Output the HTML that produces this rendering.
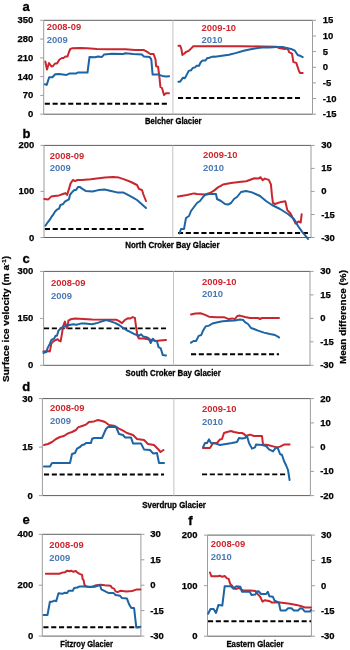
<!DOCTYPE html>
<html><head><meta charset="utf-8"><style>
html,body{margin:0;padding:0;background:#fff;width:350px;height:650px;overflow:hidden}
svg{display:block;filter:blur(0.35px);font-family:"Liberation Sans", sans-serif}
</style></head><body>
<svg width="350" height="650" viewBox="0 0 350 650">
<rect x="0" y="0" width="350" height="650" fill="#fff"/>
<line x1="43.7" y1="20.3" x2="312.5" y2="20.3" stroke="#5e5e5e" stroke-width="1"/>
<line x1="43.7" y1="114.2" x2="312.5" y2="114.2" stroke="#5e5e5e" stroke-width="1"/>
<line x1="43.7" y1="20.3" x2="43.7" y2="114.2" stroke="#9c9c9c" stroke-width="1"/>
<line x1="312.5" y1="20.3" x2="312.5" y2="114.2" stroke="#9c9c9c" stroke-width="1"/>
<line x1="172.9" y1="20.3" x2="172.9" y2="114.2" stroke="#c2c2c2" stroke-width="1"/>
<line x1="40.2" y1="20.3" x2="43.7" y2="20.3" stroke="#9c9c9c" stroke-width="1"/>
<text x="33.4" y="23.3" font-size="9.6" font-weight="bold" fill="#000" text-anchor="end" textLength="15.8" lengthAdjust="spacingAndGlyphs" stroke="#000" stroke-width="0.25">350</text>
<line x1="40.2" y1="39.1" x2="43.7" y2="39.1" stroke="#9c9c9c" stroke-width="1"/>
<text x="33.4" y="42.1" font-size="9.6" font-weight="bold" fill="#000" text-anchor="end" textLength="15.8" lengthAdjust="spacingAndGlyphs" stroke="#000" stroke-width="0.25">280</text>
<line x1="40.2" y1="57.9" x2="43.7" y2="57.9" stroke="#9c9c9c" stroke-width="1"/>
<text x="33.4" y="60.9" font-size="9.6" font-weight="bold" fill="#000" text-anchor="end" textLength="15.8" lengthAdjust="spacingAndGlyphs" stroke="#000" stroke-width="0.25">210</text>
<line x1="40.2" y1="76.6" x2="43.7" y2="76.6" stroke="#9c9c9c" stroke-width="1"/>
<text x="33.4" y="79.6" font-size="9.6" font-weight="bold" fill="#000" text-anchor="end" textLength="15.8" lengthAdjust="spacingAndGlyphs" stroke="#000" stroke-width="0.25">140</text>
<line x1="40.2" y1="95.4" x2="43.7" y2="95.4" stroke="#9c9c9c" stroke-width="1"/>
<text x="33.4" y="98.4" font-size="9.6" font-weight="bold" fill="#000" text-anchor="end" textLength="10.6" lengthAdjust="spacingAndGlyphs" stroke="#000" stroke-width="0.25">70</text>
<line x1="40.2" y1="114.2" x2="43.7" y2="114.2" stroke="#9c9c9c" stroke-width="1"/>
<text x="33.4" y="117.2" font-size="9.6" font-weight="bold" fill="#000" text-anchor="end" textLength="5.3" lengthAdjust="spacingAndGlyphs" stroke="#000" stroke-width="0.25">0</text>
<line x1="312.5" y1="20.3" x2="316.0" y2="20.3" stroke="#9c9c9c" stroke-width="1"/>
<text x="322.8" y="23.3" font-size="9.6" font-weight="bold" fill="#000" text-anchor="start" textLength="10.6" lengthAdjust="spacingAndGlyphs" stroke="#000" stroke-width="0.25">15</text>
<line x1="312.5" y1="36.0" x2="316.0" y2="36.0" stroke="#9c9c9c" stroke-width="1"/>
<text x="322.8" y="39.0" font-size="9.6" font-weight="bold" fill="#000" text-anchor="start" textLength="10.6" lengthAdjust="spacingAndGlyphs" stroke="#000" stroke-width="0.25">10</text>
<line x1="312.5" y1="51.6" x2="316.0" y2="51.6" stroke="#9c9c9c" stroke-width="1"/>
<text x="322.8" y="54.6" font-size="9.6" font-weight="bold" fill="#000" text-anchor="start" textLength="5.3" lengthAdjust="spacingAndGlyphs" stroke="#000" stroke-width="0.25">5</text>
<line x1="312.5" y1="67.3" x2="316.0" y2="67.3" stroke="#9c9c9c" stroke-width="1"/>
<text x="322.8" y="70.3" font-size="9.6" font-weight="bold" fill="#000" text-anchor="start" textLength="5.3" lengthAdjust="spacingAndGlyphs" stroke="#000" stroke-width="0.25">0</text>
<line x1="312.5" y1="82.9" x2="316.0" y2="82.9" stroke="#9c9c9c" stroke-width="1"/>
<text x="322.8" y="85.9" font-size="9.6" font-weight="bold" fill="#000" text-anchor="start" textLength="8.4" lengthAdjust="spacingAndGlyphs" stroke="#000" stroke-width="0.25">-5</text>
<line x1="312.5" y1="98.5" x2="316.0" y2="98.5" stroke="#9c9c9c" stroke-width="1"/>
<text x="322.8" y="101.5" font-size="9.6" font-weight="bold" fill="#000" text-anchor="start" textLength="13.7" lengthAdjust="spacingAndGlyphs" stroke="#000" stroke-width="0.25">-10</text>
<line x1="312.5" y1="114.2" x2="316.0" y2="114.2" stroke="#9c9c9c" stroke-width="1"/>
<text x="322.8" y="117.2" font-size="9.6" font-weight="bold" fill="#000" text-anchor="start" textLength="13.7" lengthAdjust="spacingAndGlyphs" stroke="#000" stroke-width="0.25">-15</text>
<text x="22.5" y="10.8" font-size="13.0" font-weight="bold" fill="#000" text-anchor="start" stroke="#000" stroke-width="0.3">a</text>
<text x="46.7" y="30.4" font-size="9.8" font-weight="bold" fill="#cf252d" text-anchor="start" textLength="34.5" lengthAdjust="spacingAndGlyphs">2008-09</text>
<text x="46.7" y="43.0" font-size="9.8" font-weight="bold" fill="#4a79b5" text-anchor="start" textLength="21.0" lengthAdjust="spacingAndGlyphs">2009</text>
<text x="201.6" y="30.6" font-size="9.8" font-weight="bold" fill="#cf252d" text-anchor="start" textLength="34.5" lengthAdjust="spacingAndGlyphs">2009-10</text>
<text x="201.6" y="43.0" font-size="9.8" font-weight="bold" fill="#4a79b5" text-anchor="start" textLength="21.0" lengthAdjust="spacingAndGlyphs">2010</text>
<text x="145.0" y="124.2" font-size="9.4" font-weight="bold" fill="#000" text-anchor="start" textLength="56.6" lengthAdjust="spacingAndGlyphs" stroke="#000" stroke-width="0.3">Belcher Glacier</text>
<line x1="44.8" y1="103.7" x2="167.0" y2="103.7" stroke="#000" stroke-width="1.9" stroke-dasharray="5.1,2.7"/>
<line x1="178.0" y1="98.0" x2="300.0" y2="98.0" stroke="#000" stroke-width="1.9" stroke-dasharray="5.1,2.7"/>
<polyline points="45.3,61.5 47.0,69.5 49.0,63.0 51.5,66.5 53.0,66.0 55.0,63.5 57.0,63.5 59.5,59.5 62.0,58.0 63.5,58.0 65.5,56.5 67.5,56.5 69.0,52.0 70.3,49.0 72.0,48.3 80.0,48.0 87.0,48.2 97.0,48.9 108.0,49.3 125.4,49.3 135.1,50.1 143.9,50.1 146.8,51.7 150.3,54.0 153.6,54.0 155.5,59.4 156.1,66.2 158.1,66.8 159.4,76.9 160.4,87.0 162.0,88.0 164.0,95.0 166.0,93.3 169.0,93.3" fill="none" stroke="#c9262e" stroke-width="2" stroke-linejoin="round" stroke-linecap="round"/>
<polyline points="44.8,84.3 46.7,84.9 49.2,77.3 52.4,77.3 55.2,74.3 59.0,74.0 66.5,74.9 69.3,73.6 76.0,73.6 77.8,72.5 87.5,72.5 89.5,57.0 95.0,57.3 98.0,56.5 102.0,57.0 104.0,54.5 112.0,53.8 123.5,54.0 125.4,53.2 133.2,54.0 142.0,54.6 143.9,56.5 149.7,57.1 151.3,59.4 152.6,74.6 158.5,74.6 162.3,75.9 166.2,76.5 169.1,76.3" fill="none" stroke="#1c64a3" stroke-width="2" stroke-linejoin="round" stroke-linecap="round"/>
<polyline points="178.4,45.7 180.1,45.7 181.3,48.6 182.4,54.9 184.1,53.7 185.9,52.0 187.6,51.4 189.3,50.3 191.0,48.6 193.3,46.3 215.0,46.3 242.0,46.3 262.0,46.4 276.3,46.7 279.1,48.1 284.9,49.0 287.7,48.6 289.1,52.1 292.0,53.6 293.4,62.1 296.3,62.9 298.4,69.3 299.9,72.9 302.7,72.9" fill="none" stroke="#c9262e" stroke-width="2" stroke-linejoin="round" stroke-linecap="round"/>
<polyline points="178.4,81.7 180.1,81.7 183.0,77.7 184.7,78.3 186.4,75.4 188.7,70.9 191.0,70.3 192.7,68.0 195.0,67.4 196.7,65.7 199.0,65.7 200.7,62.3 202.4,60.6 205.3,60.6 207.0,58.3 209.3,57.7 212.7,56.6 215.0,56.7 222.0,55.7 229.0,54.7 236.4,52.9 243.6,50.7 250.7,49.3 257.9,48.1 262.0,47.6 269.1,47.4 276.3,47.1 283.4,47.1 287.7,48.1 292.0,49.3 294.9,50.7 297.7,55.0 299.9,55.7 302.7,57.1" fill="none" stroke="#1c64a3" stroke-width="2" stroke-linejoin="round" stroke-linecap="round"/>
<line x1="44.0" y1="145.4" x2="311.0" y2="145.4" stroke="#5e5e5e" stroke-width="1"/>
<line x1="44.0" y1="237.5" x2="311.0" y2="237.5" stroke="#5e5e5e" stroke-width="1"/>
<line x1="44.0" y1="145.4" x2="44.0" y2="237.5" stroke="#9c9c9c" stroke-width="1"/>
<line x1="311.0" y1="145.4" x2="311.0" y2="237.5" stroke="#9c9c9c" stroke-width="1"/>
<line x1="172.8" y1="145.4" x2="172.8" y2="237.5" stroke="#c2c2c2" stroke-width="1"/>
<line x1="40.5" y1="145.4" x2="44.0" y2="145.4" stroke="#9c9c9c" stroke-width="1"/>
<text x="34.2" y="148.4" font-size="9.6" font-weight="bold" fill="#000" text-anchor="end" textLength="15.8" lengthAdjust="spacingAndGlyphs" stroke="#000" stroke-width="0.25">200</text>
<line x1="40.5" y1="191.4" x2="44.0" y2="191.4" stroke="#9c9c9c" stroke-width="1"/>
<text x="34.2" y="194.4" font-size="9.6" font-weight="bold" fill="#000" text-anchor="end" textLength="15.8" lengthAdjust="spacingAndGlyphs" stroke="#000" stroke-width="0.25">100</text>
<line x1="40.5" y1="237.5" x2="44.0" y2="237.5" stroke="#9c9c9c" stroke-width="1"/>
<text x="34.2" y="240.5" font-size="9.6" font-weight="bold" fill="#000" text-anchor="end" textLength="5.3" lengthAdjust="spacingAndGlyphs" stroke="#000" stroke-width="0.25">0</text>
<line x1="311.0" y1="145.4" x2="314.5" y2="145.4" stroke="#9c9c9c" stroke-width="1"/>
<text x="321.2" y="148.4" font-size="9.6" font-weight="bold" fill="#000" text-anchor="start" textLength="10.6" lengthAdjust="spacingAndGlyphs" stroke="#000" stroke-width="0.25">30</text>
<line x1="311.0" y1="168.4" x2="314.5" y2="168.4" stroke="#9c9c9c" stroke-width="1"/>
<text x="321.2" y="171.4" font-size="9.6" font-weight="bold" fill="#000" text-anchor="start" textLength="10.6" lengthAdjust="spacingAndGlyphs" stroke="#000" stroke-width="0.25">15</text>
<line x1="311.0" y1="191.4" x2="314.5" y2="191.4" stroke="#9c9c9c" stroke-width="1"/>
<text x="321.2" y="194.4" font-size="9.6" font-weight="bold" fill="#000" text-anchor="start" textLength="5.3" lengthAdjust="spacingAndGlyphs" stroke="#000" stroke-width="0.25">0</text>
<line x1="311.0" y1="214.5" x2="314.5" y2="214.5" stroke="#9c9c9c" stroke-width="1"/>
<text x="321.2" y="217.5" font-size="9.6" font-weight="bold" fill="#000" text-anchor="start" textLength="13.7" lengthAdjust="spacingAndGlyphs" stroke="#000" stroke-width="0.25">-15</text>
<line x1="311.0" y1="237.5" x2="314.5" y2="237.5" stroke="#9c9c9c" stroke-width="1"/>
<text x="321.2" y="240.5" font-size="9.6" font-weight="bold" fill="#000" text-anchor="start" textLength="13.7" lengthAdjust="spacingAndGlyphs" stroke="#000" stroke-width="0.25">-30</text>
<text x="22.5" y="137.6" font-size="13.0" font-weight="bold" fill="#000" text-anchor="start" stroke="#000" stroke-width="0.3">b</text>
<text x="49.8" y="158.5" font-size="9.8" font-weight="bold" fill="#cf252d" text-anchor="start" textLength="34.5" lengthAdjust="spacingAndGlyphs">2008-09</text>
<text x="49.8" y="171.0" font-size="9.8" font-weight="bold" fill="#4a79b5" text-anchor="start" textLength="21.0" lengthAdjust="spacingAndGlyphs">2009</text>
<text x="203.0" y="158.4" font-size="9.8" font-weight="bold" fill="#cf252d" text-anchor="start" textLength="34.5" lengthAdjust="spacingAndGlyphs">2009-10</text>
<text x="203.0" y="171.0" font-size="9.8" font-weight="bold" fill="#4a79b5" text-anchor="start" textLength="21.0" lengthAdjust="spacingAndGlyphs">2010</text>
<text x="125.2" y="248.4" font-size="9.4" font-weight="bold" fill="#000" text-anchor="start" textLength="94.4" lengthAdjust="spacingAndGlyphs" stroke="#000" stroke-width="0.3">North Croker Bay Glacier</text>
<line x1="44.9" y1="229.0" x2="144.0" y2="229.0" stroke="#000" stroke-width="1.9" stroke-dasharray="5.1,2.7"/>
<line x1="178.0" y1="233.0" x2="308.0" y2="233.0" stroke="#000" stroke-width="1.9" stroke-dasharray="5.1,2.7"/>
<polyline points="44.3,198.9 48.3,199.4 51.1,196.6 54.6,196.0 59.1,195.4 63.7,193.7 65.4,193.1 67.1,194.9 68.9,189.1 70.6,183.4 72.9,180.0 75.1,181.1 77.4,180.0 82.0,180.0 90.6,179.3 105.0,177.6 113.0,177.0 119.0,177.6 125.0,179.6 131.0,182.0 137.0,185.0 139.0,189.0 142.0,190.0 143.6,195.0 146.0,201.0" fill="none" stroke="#c9262e" stroke-width="2" stroke-linejoin="round" stroke-linecap="round"/>
<polyline points="45.4,225.7 47.7,222.3 50.0,219.4 51.7,216.6 53.4,214.3 55.1,211.4 56.9,209.7 59.1,208.6 60.3,205.1 63.1,204.0 64.9,201.7 66.6,200.6 68.9,199.4 70.0,194.9 71.7,192.6 74.0,190.3 76.3,189.7 78.0,186.9 79.7,186.9 82.0,188.6 85.7,190.9 92.5,191.5 98.3,190.1 104.6,189.5 111.0,191.0 117.0,192.4 123.0,192.4 127.0,194.4 133.0,197.6 137.0,200.0 141.0,203.6 146.0,208.0" fill="none" stroke="#1c64a3" stroke-width="2" stroke-linejoin="round" stroke-linecap="round"/>
<polyline points="178.0,196.6 187.0,195.0 194.0,193.4 197.0,194.0 205.0,194.4 210.0,193.0 214.0,190.6 218.0,187.4 223.0,184.6 231.0,183.0 239.0,182.0 246.2,181.3 254.4,178.2 258.5,178.6 260.6,177.2 262.6,180.3 264.7,178.6 268.8,179.9 270.9,184.4 271.9,194.7 272.9,202.9 275.0,204.0 281.2,201.9 285.3,201.3 287.3,210.1 290.4,213.2 293.5,219.4 295.6,223.5 298.6,221.4 300.7,222.5 301.7,214.2" fill="none" stroke="#c9262e" stroke-width="2" stroke-linejoin="round" stroke-linecap="round"/>
<polyline points="179.5,233.5 181.0,229.0 184.0,229.0 186.0,218.0 189.0,216.0 191.0,211.0 194.0,207.0 197.0,203.0 200.0,201.0 203.0,197.0 205.0,195.0 209.0,194.0 213.0,194.0 216.0,194.0 217.0,199.0 221.0,201.0 225.0,204.0 228.0,204.6 231.0,203.0 234.0,199.0 237.0,197.0 241.0,192.0 246.0,191.0 252.0,192.4 260.0,196.0 266.0,201.0 272.0,205.0 280.0,209.0 288.0,214.0 294.0,219.0 298.0,226.0 302.0,231.6 306.0,236.4 308.0,239.0" fill="none" stroke="#1c64a3" stroke-width="2" stroke-linejoin="round" stroke-linecap="round"/>
<line x1="43.6" y1="271.4" x2="310.0" y2="271.4" stroke="#5e5e5e" stroke-width="1"/>
<line x1="43.6" y1="365.3" x2="310.0" y2="365.3" stroke="#5e5e5e" stroke-width="1"/>
<line x1="43.6" y1="271.4" x2="43.6" y2="365.3" stroke="#9c9c9c" stroke-width="1"/>
<line x1="310.0" y1="271.4" x2="310.0" y2="365.3" stroke="#9c9c9c" stroke-width="1"/>
<line x1="173.5" y1="271.4" x2="173.5" y2="365.3" stroke="#c2c2c2" stroke-width="1"/>
<line x1="40.1" y1="271.4" x2="43.6" y2="271.4" stroke="#9c9c9c" stroke-width="1"/>
<text x="33.2" y="274.4" font-size="9.6" font-weight="bold" fill="#000" text-anchor="end" textLength="15.8" lengthAdjust="spacingAndGlyphs" stroke="#000" stroke-width="0.25">300</text>
<line x1="40.1" y1="318.4" x2="43.6" y2="318.4" stroke="#9c9c9c" stroke-width="1"/>
<text x="33.2" y="321.4" font-size="9.6" font-weight="bold" fill="#000" text-anchor="end" textLength="15.8" lengthAdjust="spacingAndGlyphs" stroke="#000" stroke-width="0.25">150</text>
<line x1="40.1" y1="365.3" x2="43.6" y2="365.3" stroke="#9c9c9c" stroke-width="1"/>
<text x="33.2" y="368.3" font-size="9.6" font-weight="bold" fill="#000" text-anchor="end" textLength="5.3" lengthAdjust="spacingAndGlyphs" stroke="#000" stroke-width="0.25">0</text>
<line x1="310.0" y1="271.4" x2="313.5" y2="271.4" stroke="#9c9c9c" stroke-width="1"/>
<text x="320.2" y="274.4" font-size="9.6" font-weight="bold" fill="#000" text-anchor="start" textLength="10.6" lengthAdjust="spacingAndGlyphs" stroke="#000" stroke-width="0.25">30</text>
<line x1="310.0" y1="294.9" x2="313.5" y2="294.9" stroke="#9c9c9c" stroke-width="1"/>
<text x="320.2" y="297.9" font-size="9.6" font-weight="bold" fill="#000" text-anchor="start" textLength="10.6" lengthAdjust="spacingAndGlyphs" stroke="#000" stroke-width="0.25">15</text>
<line x1="310.0" y1="318.4" x2="313.5" y2="318.4" stroke="#9c9c9c" stroke-width="1"/>
<text x="320.2" y="321.4" font-size="9.6" font-weight="bold" fill="#000" text-anchor="start" textLength="5.3" lengthAdjust="spacingAndGlyphs" stroke="#000" stroke-width="0.25">0</text>
<line x1="310.0" y1="341.8" x2="313.5" y2="341.8" stroke="#9c9c9c" stroke-width="1"/>
<text x="320.2" y="344.8" font-size="9.6" font-weight="bold" fill="#000" text-anchor="start" textLength="13.7" lengthAdjust="spacingAndGlyphs" stroke="#000" stroke-width="0.25">-15</text>
<line x1="310.0" y1="365.3" x2="313.5" y2="365.3" stroke="#9c9c9c" stroke-width="1"/>
<text x="320.2" y="368.3" font-size="9.6" font-weight="bold" fill="#000" text-anchor="start" textLength="13.7" lengthAdjust="spacingAndGlyphs" stroke="#000" stroke-width="0.25">-30</text>
<text x="22.5" y="263.2" font-size="13.0" font-weight="bold" fill="#000" text-anchor="start" stroke="#000" stroke-width="0.3">c</text>
<text x="51.0" y="286.0" font-size="9.8" font-weight="bold" fill="#cf252d" text-anchor="start" textLength="34.5" lengthAdjust="spacingAndGlyphs">2008-09</text>
<text x="51.0" y="298.6" font-size="9.8" font-weight="bold" fill="#4a79b5" text-anchor="start" textLength="21.0" lengthAdjust="spacingAndGlyphs">2009</text>
<text x="202.0" y="284.6" font-size="9.8" font-weight="bold" fill="#cf252d" text-anchor="start" textLength="34.5" lengthAdjust="spacingAndGlyphs">2009-10</text>
<text x="202.0" y="297.4" font-size="9.8" font-weight="bold" fill="#4a79b5" text-anchor="start" textLength="21.0" lengthAdjust="spacingAndGlyphs">2010</text>
<text x="125.6" y="376.1" font-size="9.4" font-weight="bold" fill="#000" text-anchor="start" textLength="95.2" lengthAdjust="spacingAndGlyphs" stroke="#000" stroke-width="0.3">South Croker Bay Glacier</text>
<line x1="44.0" y1="328.4" x2="166.0" y2="328.4" stroke="#000" stroke-width="1.9" stroke-dasharray="5.1,2.7"/>
<line x1="191.0" y1="354.2" x2="279.0" y2="354.2" stroke="#000" stroke-width="1.9" stroke-dasharray="5.1,2.7"/>
<polyline points="43.4,351.4 47.7,351.0 49.9,351.4 51.3,343.6 53.4,341.4 55.6,340.0 57.7,339.3 59.1,340.7 60.6,341.4 62.0,333.6 63.1,326.4 64.1,323.6 64.9,321.6 65.6,324.3 66.6,328.0 67.7,326.4 68.4,320.7 70.6,319.3 74.9,318.6 92.0,319.5 116.3,319.7 119.1,321.1 122.0,323.1 124.9,320.0 127.7,318.3 129.9,318.6 132.7,317.1 134.9,317.9 136.3,328.6 137.7,336.4 139.1,338.6 144.0,338.6 152.0,340.0 156.0,341.0 160.0,340.6 166.0,340.0" fill="none" stroke="#c9262e" stroke-width="2" stroke-linejoin="round" stroke-linecap="round"/>
<polyline points="43.4,352.9 46.3,352.1 47.7,347.9 49.9,343.6 51.3,340.0 54.1,338.6 55.6,335.7 57.0,335.7 58.4,330.7 60.6,328.6 62.7,327.1 64.9,326.4 67.0,325.0 69.1,325.0 73.4,324.3 76.3,324.7 80.6,323.6 84.9,323.6 92.0,324.3 97.7,322.9 102.0,321.4 106.3,320.0 110.6,321.4 114.9,322.9 119.1,325.0 122.0,327.1 126.3,330.0 130.6,332.1 134.9,334.3 139.1,335.7 141.2,334.3 143.3,336.6 146.5,337.2 148.6,338.2 150.7,343.0 152.8,338.7 154.9,340.9 157.0,341.4 158.6,347.2 160.7,348.3 162.8,355.1 166.0,355.4" fill="none" stroke="#1c64a3" stroke-width="2" stroke-linejoin="round" stroke-linecap="round"/>
<polyline points="191.0,314.4 195.3,313.6 200.4,313.2 203.9,314.4 209.0,316.7 215.9,317.3 224.5,317.3 228.7,319.1 232.2,318.4 234.7,319.1 237.3,316.1 239.9,315.6 245.0,317.0 250.0,318.0 258.0,318.0 260.0,319.0 262.0,318.0 279.0,318.0" fill="none" stroke="#c9262e" stroke-width="2" stroke-linejoin="round" stroke-linecap="round"/>
<polyline points="191.0,342.7 193.6,341.0 196.1,341.0 198.7,335.9 201.3,335.0 203.0,330.7 205.6,326.4 209.0,325.6 212.4,323.5 217.6,322.2 222.7,321.3 229.6,320.8 234.7,320.4 239.9,319.6 243.3,320.1 245.0,322.2 248.0,324.0 251.0,328.0 254.0,329.0 258.0,330.6 264.0,332.6 270.0,334.0 275.0,335.0 279.0,337.4" fill="none" stroke="#1c64a3" stroke-width="2" stroke-linejoin="round" stroke-linecap="round"/>
<text x="0.0" y="0.0" font-size="9.6" font-weight="bold" fill="#000" text-anchor="middle" textLength="126.0" lengthAdjust="spacingAndGlyphs" stroke="#000" stroke-width="0.25" transform="translate(8.9,319) rotate(-90)">Surface ice velocity (m a<tspan dy="-3" font-size="6">-1</tspan><tspan dy="3">)</tspan></text>
<text x="0.0" y="0.0" font-size="9.6" font-weight="bold" fill="#000" text-anchor="middle" textLength="94.0" lengthAdjust="spacingAndGlyphs" stroke="#000" stroke-width="0.25" transform="translate(346.2,317) rotate(-90)">Mean difference (%)</text>
<line x1="42.4" y1="398.6" x2="310.4" y2="398.6" stroke="#5e5e5e" stroke-width="1"/>
<line x1="42.4" y1="495.6" x2="310.4" y2="495.6" stroke="#5e5e5e" stroke-width="1"/>
<line x1="42.4" y1="398.6" x2="42.4" y2="495.6" stroke="#9c9c9c" stroke-width="1"/>
<line x1="310.4" y1="398.6" x2="310.4" y2="495.6" stroke="#9c9c9c" stroke-width="1"/>
<line x1="173.9" y1="398.6" x2="173.9" y2="495.6" stroke="#c2c2c2" stroke-width="1"/>
<line x1="38.9" y1="398.6" x2="42.4" y2="398.6" stroke="#9c9c9c" stroke-width="1"/>
<text x="32.8" y="401.6" font-size="9.6" font-weight="bold" fill="#000" text-anchor="end" textLength="10.6" lengthAdjust="spacingAndGlyphs" stroke="#000" stroke-width="0.25">30</text>
<line x1="38.9" y1="447.1" x2="42.4" y2="447.1" stroke="#9c9c9c" stroke-width="1"/>
<text x="32.8" y="450.1" font-size="9.6" font-weight="bold" fill="#000" text-anchor="end" textLength="10.6" lengthAdjust="spacingAndGlyphs" stroke="#000" stroke-width="0.25">15</text>
<line x1="38.9" y1="495.6" x2="42.4" y2="495.6" stroke="#9c9c9c" stroke-width="1"/>
<text x="32.8" y="498.6" font-size="9.6" font-weight="bold" fill="#000" text-anchor="end" textLength="5.3" lengthAdjust="spacingAndGlyphs" stroke="#000" stroke-width="0.25">0</text>
<line x1="310.4" y1="398.6" x2="313.9" y2="398.6" stroke="#9c9c9c" stroke-width="1"/>
<text x="320.2" y="401.6" font-size="9.6" font-weight="bold" fill="#000" text-anchor="start" textLength="10.6" lengthAdjust="spacingAndGlyphs" stroke="#000" stroke-width="0.25">20</text>
<line x1="310.4" y1="422.9" x2="313.9" y2="422.9" stroke="#9c9c9c" stroke-width="1"/>
<text x="320.2" y="425.9" font-size="9.6" font-weight="bold" fill="#000" text-anchor="start" textLength="10.6" lengthAdjust="spacingAndGlyphs" stroke="#000" stroke-width="0.25">10</text>
<line x1="310.4" y1="447.1" x2="313.9" y2="447.1" stroke="#9c9c9c" stroke-width="1"/>
<text x="320.2" y="450.1" font-size="9.6" font-weight="bold" fill="#000" text-anchor="start" textLength="5.3" lengthAdjust="spacingAndGlyphs" stroke="#000" stroke-width="0.25">0</text>
<line x1="310.4" y1="471.4" x2="313.9" y2="471.4" stroke="#9c9c9c" stroke-width="1"/>
<text x="320.2" y="474.4" font-size="9.6" font-weight="bold" fill="#000" text-anchor="start" textLength="13.7" lengthAdjust="spacingAndGlyphs" stroke="#000" stroke-width="0.25">-10</text>
<line x1="310.4" y1="495.6" x2="313.9" y2="495.6" stroke="#9c9c9c" stroke-width="1"/>
<text x="320.2" y="498.6" font-size="9.6" font-weight="bold" fill="#000" text-anchor="start" textLength="13.7" lengthAdjust="spacingAndGlyphs" stroke="#000" stroke-width="0.25">-20</text>
<text x="22.2" y="391.0" font-size="13.0" font-weight="bold" fill="#000" text-anchor="start" stroke="#000" stroke-width="0.3">d</text>
<text x="50.0" y="411.0" font-size="9.8" font-weight="bold" fill="#cf252d" text-anchor="start" textLength="34.5" lengthAdjust="spacingAndGlyphs">2008-09</text>
<text x="50.0" y="423.6" font-size="9.8" font-weight="bold" fill="#4a79b5" text-anchor="start" textLength="21.0" lengthAdjust="spacingAndGlyphs">2009</text>
<text x="202.0" y="411.6" font-size="9.8" font-weight="bold" fill="#cf252d" text-anchor="start" textLength="34.5" lengthAdjust="spacingAndGlyphs">2009-10</text>
<text x="202.0" y="424.6" font-size="9.8" font-weight="bold" fill="#4a79b5" text-anchor="start" textLength="21.0" lengthAdjust="spacingAndGlyphs">2010</text>
<text x="142.3" y="508.0" font-size="9.4" font-weight="bold" fill="#000" text-anchor="start" textLength="63.6" lengthAdjust="spacingAndGlyphs" stroke="#000" stroke-width="0.3">Sverdrup Glacier</text>
<line x1="44.0" y1="474.5" x2="164.0" y2="474.5" stroke="#000" stroke-width="1.9" stroke-dasharray="5.1,2.7"/>
<line x1="202.0" y1="474.4" x2="286.0" y2="474.4" stroke="#000" stroke-width="1.9" stroke-dasharray="5.1,2.7"/>
<polyline points="44.0,445.0 48.0,444.0 52.0,442.0 56.0,439.0 60.0,437.0 64.0,436.0 68.0,433.4 72.0,432.0 76.0,430.0 78.0,427.4 82.0,426.0 86.0,424.6 89.0,422.0 94.0,421.4 98.0,420.0 102.0,421.0 105.0,422.0 109.0,425.0 115.0,426.0 119.0,428.6 123.0,430.6 127.0,433.0 133.0,435.0 137.0,439.0 144.0,440.0 148.0,444.0 154.0,445.0 158.0,449.0 160.5,452.0 163.5,450.0" fill="none" stroke="#c9262e" stroke-width="2" stroke-linejoin="round" stroke-linecap="round"/>
<polyline points="44.0,466.6 50.0,466.6 52.0,463.0 70.0,463.0 72.0,454.0 75.0,453.0 77.0,448.6 80.0,447.0 82.0,445.0 84.0,444.6 86.0,443.0 91.0,443.0 92.0,439.0 94.0,438.0 102.0,438.0 106.0,429.0 108.0,427.0 116.0,427.0 119.0,434.0 123.0,435.0 125.0,437.4 131.0,437.4 133.0,443.4 141.0,443.4 144.0,449.4 150.0,450.0 153.0,453.4 157.0,453.0 159.0,463.0 164.0,463.0" fill="none" stroke="#1c64a3" stroke-width="2" stroke-linejoin="round" stroke-linecap="round"/>
<polyline points="203.0,448.0 210.0,448.0 213.0,443.0 217.0,443.0 220.0,439.4 222.0,439.0 224.0,433.0 227.0,432.0 231.0,431.0 234.0,432.0 239.0,433.0 242.0,433.0 244.0,434.0 246.0,436.0 250.0,434.6 254.0,436.0 262.0,436.0 263.0,444.6 268.0,445.0 274.0,446.6 277.0,447.4 280.0,446.6 284.0,444.6 289.6,444.6" fill="none" stroke="#c9262e" stroke-width="2" stroke-linejoin="round" stroke-linecap="round"/>
<polyline points="203.0,447.4 205.0,443.0 207.0,443.0 209.0,439.4 211.0,443.0 215.0,443.4 220.0,445.0 226.0,444.0 232.0,443.0 237.0,442.0 239.0,438.0 242.0,438.6 245.0,438.0 247.0,436.0 249.0,443.0 252.0,448.6 255.0,447.4 256.0,444.6 262.0,445.0 266.0,446.0 269.0,449.4 273.0,451.4 276.0,447.4 278.0,448.6 280.0,454.0 282.0,455.0 284.0,461.0 286.4,466.0 288.0,470.0 289.6,480.0" fill="none" stroke="#1c64a3" stroke-width="2" stroke-linejoin="round" stroke-linecap="round"/>
<line x1="42.3" y1="534.3" x2="140.9" y2="534.3" stroke="#5e5e5e" stroke-width="1"/>
<line x1="42.3" y1="636.1" x2="140.9" y2="636.1" stroke="#5e5e5e" stroke-width="1"/>
<line x1="42.3" y1="534.3" x2="42.3" y2="636.1" stroke="#9c9c9c" stroke-width="1"/>
<line x1="140.9" y1="534.3" x2="140.9" y2="636.1" stroke="#9c9c9c" stroke-width="1"/>
<line x1="38.8" y1="534.3" x2="42.3" y2="534.3" stroke="#9c9c9c" stroke-width="1"/>
<text x="33.2" y="537.3" font-size="9.6" font-weight="bold" fill="#000" text-anchor="end" textLength="15.8" lengthAdjust="spacingAndGlyphs" stroke="#000" stroke-width="0.25">400</text>
<line x1="38.8" y1="585.2" x2="42.3" y2="585.2" stroke="#9c9c9c" stroke-width="1"/>
<text x="33.2" y="588.2" font-size="9.6" font-weight="bold" fill="#000" text-anchor="end" textLength="15.8" lengthAdjust="spacingAndGlyphs" stroke="#000" stroke-width="0.25">200</text>
<line x1="38.8" y1="636.1" x2="42.3" y2="636.1" stroke="#9c9c9c" stroke-width="1"/>
<text x="33.2" y="639.1" font-size="9.6" font-weight="bold" fill="#000" text-anchor="end" textLength="5.3" lengthAdjust="spacingAndGlyphs" stroke="#000" stroke-width="0.25">0</text>
<line x1="140.9" y1="534.3" x2="144.4" y2="534.3" stroke="#9c9c9c" stroke-width="1"/>
<text x="150.2" y="537.3" font-size="9.6" font-weight="bold" fill="#000" text-anchor="start" textLength="10.6" lengthAdjust="spacingAndGlyphs" stroke="#000" stroke-width="0.25">30</text>
<line x1="140.9" y1="559.8" x2="144.4" y2="559.8" stroke="#9c9c9c" stroke-width="1"/>
<text x="150.2" y="562.8" font-size="9.6" font-weight="bold" fill="#000" text-anchor="start" textLength="10.6" lengthAdjust="spacingAndGlyphs" stroke="#000" stroke-width="0.25">15</text>
<line x1="140.9" y1="585.2" x2="144.4" y2="585.2" stroke="#9c9c9c" stroke-width="1"/>
<text x="150.2" y="588.2" font-size="9.6" font-weight="bold" fill="#000" text-anchor="start" textLength="5.3" lengthAdjust="spacingAndGlyphs" stroke="#000" stroke-width="0.25">0</text>
<line x1="140.9" y1="610.6" x2="144.4" y2="610.6" stroke="#9c9c9c" stroke-width="1"/>
<text x="150.2" y="613.6" font-size="9.6" font-weight="bold" fill="#000" text-anchor="start" textLength="13.7" lengthAdjust="spacingAndGlyphs" stroke="#000" stroke-width="0.25">-15</text>
<line x1="140.9" y1="636.1" x2="144.4" y2="636.1" stroke="#9c9c9c" stroke-width="1"/>
<text x="150.2" y="639.1" font-size="9.6" font-weight="bold" fill="#000" text-anchor="start" textLength="13.7" lengthAdjust="spacingAndGlyphs" stroke="#000" stroke-width="0.25">-30</text>
<text x="22.5" y="524.3" font-size="13.0" font-weight="bold" fill="#000" text-anchor="start" stroke="#000" stroke-width="0.3">e</text>
<text x="49.3" y="547.8" font-size="9.8" font-weight="bold" fill="#cf252d" text-anchor="start" textLength="34.5" lengthAdjust="spacingAndGlyphs">2008-09</text>
<text x="49.3" y="560.5" font-size="9.8" font-weight="bold" fill="#4a79b5" text-anchor="start" textLength="21.0" lengthAdjust="spacingAndGlyphs">2009</text>
<text x="60.3" y="646.6" font-size="9.4" font-weight="bold" fill="#000" text-anchor="start" textLength="52.6" lengthAdjust="spacingAndGlyphs" stroke="#000" stroke-width="0.3">Fitzroy Glacier</text>
<line x1="43.4" y1="627.3" x2="140.0" y2="627.3" stroke="#000" stroke-width="1.9" stroke-dasharray="5.1,2.7"/>
<polyline points="45.9,573.8 59.3,573.8 62.4,572.6 64.8,572.3 67.2,570.7 69.5,571.3 71.1,570.7 73.4,571.8 75.8,571.0 77.4,572.6 79.7,573.8 82.1,574.9 82.6,578.9 83.7,580.4 84.5,585.2 86.8,586.4 92.0,586.7 96.3,585.3 100.6,584.7 104.9,585.3 110.6,585.7 112.0,587.9 114.1,588.6 115.6,591.4 117.7,592.1 120.6,590.7 126.3,591.4 132.0,591.0 136.3,589.6 140.4,589.6" fill="none" stroke="#c9262e" stroke-width="2" stroke-linejoin="round" stroke-linecap="round"/>
<polyline points="43.6,615.0 47.5,615.0 49.9,601.7 52.2,601.7 54.6,600.6 56.2,601.2 58.5,593.3 62.4,593.8 64.8,592.7 67.2,593.0 68.7,590.7 72.7,590.7 74.2,588.0 77.4,587.5 79.7,586.4 84.5,586.4 89.2,587.0 94.9,586.7 99.9,585.0 101.3,589.3 103.4,590.4 106.3,591.9 108.4,592.9 113.4,592.9 115.6,595.0 119.9,595.7 122.0,598.1 127.0,598.6 129.1,604.3 131.3,607.9 134.1,608.1 136.3,627.6 139.1,627.1 140.4,626.8" fill="none" stroke="#1c64a3" stroke-width="2" stroke-linejoin="round" stroke-linecap="round"/>
<line x1="207.5" y1="535.1" x2="311.4" y2="535.1" stroke="#5e5e5e" stroke-width="1"/>
<line x1="207.5" y1="636.2" x2="311.4" y2="636.2" stroke="#5e5e5e" stroke-width="1"/>
<line x1="207.5" y1="535.1" x2="207.5" y2="636.2" stroke="#9c9c9c" stroke-width="1"/>
<line x1="311.4" y1="535.1" x2="311.4" y2="636.2" stroke="#9c9c9c" stroke-width="1"/>
<line x1="204.0" y1="535.1" x2="207.5" y2="535.1" stroke="#9c9c9c" stroke-width="1"/>
<text x="197.6" y="538.1" font-size="9.6" font-weight="bold" fill="#000" text-anchor="end" textLength="15.8" lengthAdjust="spacingAndGlyphs" stroke="#000" stroke-width="0.25">200</text>
<line x1="204.0" y1="585.7" x2="207.5" y2="585.7" stroke="#9c9c9c" stroke-width="1"/>
<text x="197.6" y="588.7" font-size="9.6" font-weight="bold" fill="#000" text-anchor="end" textLength="15.8" lengthAdjust="spacingAndGlyphs" stroke="#000" stroke-width="0.25">100</text>
<line x1="204.0" y1="636.2" x2="207.5" y2="636.2" stroke="#9c9c9c" stroke-width="1"/>
<text x="197.6" y="639.2" font-size="9.6" font-weight="bold" fill="#000" text-anchor="end" textLength="5.3" lengthAdjust="spacingAndGlyphs" stroke="#000" stroke-width="0.25">0</text>
<line x1="311.4" y1="535.1" x2="314.9" y2="535.1" stroke="#9c9c9c" stroke-width="1"/>
<text x="320.9" y="538.1" font-size="9.6" font-weight="bold" fill="#000" text-anchor="start" textLength="10.6" lengthAdjust="spacingAndGlyphs" stroke="#000" stroke-width="0.25">30</text>
<line x1="311.4" y1="560.4" x2="314.9" y2="560.4" stroke="#9c9c9c" stroke-width="1"/>
<text x="320.9" y="563.4" font-size="9.6" font-weight="bold" fill="#000" text-anchor="start" textLength="10.6" lengthAdjust="spacingAndGlyphs" stroke="#000" stroke-width="0.25">15</text>
<line x1="311.4" y1="585.7" x2="314.9" y2="585.7" stroke="#9c9c9c" stroke-width="1"/>
<text x="320.9" y="588.7" font-size="9.6" font-weight="bold" fill="#000" text-anchor="start" textLength="5.3" lengthAdjust="spacingAndGlyphs" stroke="#000" stroke-width="0.25">0</text>
<line x1="311.4" y1="610.9" x2="314.9" y2="610.9" stroke="#9c9c9c" stroke-width="1"/>
<text x="320.9" y="613.9" font-size="9.6" font-weight="bold" fill="#000" text-anchor="start" textLength="13.7" lengthAdjust="spacingAndGlyphs" stroke="#000" stroke-width="0.25">-15</text>
<line x1="311.4" y1="636.2" x2="314.9" y2="636.2" stroke="#9c9c9c" stroke-width="1"/>
<text x="320.9" y="639.2" font-size="9.6" font-weight="bold" fill="#000" text-anchor="start" textLength="13.7" lengthAdjust="spacingAndGlyphs" stroke="#000" stroke-width="0.25">-30</text>
<text x="188.2" y="524.5" font-size="13.0" font-weight="bold" fill="#000" text-anchor="start" stroke="#000" stroke-width="0.3">f</text>
<text x="210.8" y="546.9" font-size="9.8" font-weight="bold" fill="#cf252d" text-anchor="start" textLength="34.5" lengthAdjust="spacingAndGlyphs">2008-09</text>
<text x="210.8" y="559.6" font-size="9.8" font-weight="bold" fill="#4a79b5" text-anchor="start" textLength="21.0" lengthAdjust="spacingAndGlyphs">2010</text>
<text x="226.4" y="646.6" font-size="9.4" font-weight="bold" fill="#000" text-anchor="start" textLength="57.2" lengthAdjust="spacingAndGlyphs" stroke="#000" stroke-width="0.3">Eastern Glacier</text>
<line x1="208.0" y1="621.3" x2="311.0" y2="621.3" stroke="#000" stroke-width="1.9" stroke-dasharray="5.1,2.7"/>
<polyline points="210.0,572.5 211.3,576.3 213.6,576.3 217.6,576.3 219.9,575.7 222.3,576.8 224.7,576.0 227.0,578.4 228.6,578.8 230.2,583.9 232.5,586.2 234.1,588.6 236.4,588.9 238.8,587.8 241.2,589.4 242.7,590.2 250.6,590.5 255.3,590.9 257.7,594.1 260.2,596.8 262.5,601.6 265.0,600.2 269.9,601.2 271.6,602.4 279.9,602.4 288.2,603.5 296.5,604.9 301.4,606.2 304.8,607.4 311.0,607.4" fill="none" stroke="#c9262e" stroke-width="2" stroke-linejoin="round" stroke-linecap="round"/>
<polyline points="208.1,613.7 210.5,609.0 213.6,609.0 216.0,612.9 218.4,605.1 222.3,605.6 224.7,586.2 230.9,586.2 233.3,588.6 236.4,586.2 240.4,586.7 241.9,591.7 249.8,591.7 251.4,594.9 255.3,594.6 256.9,591.4 258.5,591.2 261.1,594.0 266.2,594.0 267.8,591.8 269.5,596.3 272.9,596.8 274.6,600.7 278.8,602.4 280.5,610.4 285.6,610.4 288.1,608.2 291.5,608.2 293.6,610.4 298.3,610.4 300.3,608.2 302.5,608.7 304.7,611.5 310.1,611.5 311.0,609.9" fill="none" stroke="#1c64a3" stroke-width="2" stroke-linejoin="round" stroke-linecap="round"/>
</svg>
</body></html>
